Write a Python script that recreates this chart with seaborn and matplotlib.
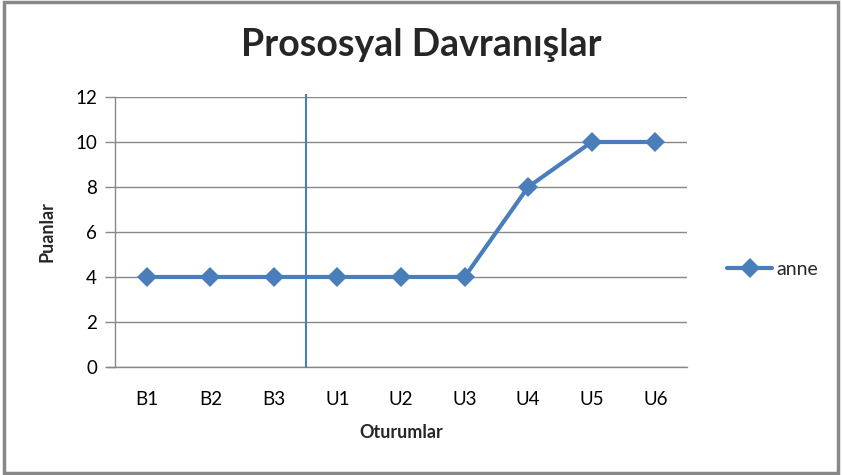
import pandas as pd
import matplotlib.pyplot as plt
import seaborn as sns

# === Data ===
sessions = ["B1", "B2", "B3", "U1", "U2", "U3", "U4", "U5", "U6"]
anne_scores = [4, 4, 4, 4, 4, 4, 8, 10, 10]
phase_change = 2.5  # between B3 and U1
y_ticks = [0, 2, 4, 6, 8, 10, 12]

LINE_COLOR = "#4A7EBB"
GRID_COLOR = "#888888"

df = pd.DataFrame({"Oturum": sessions, "Puan": anne_scores, "Seri": "anne"})
df["pos"] = range(len(sessions))

sns.set_theme(style="white")
plt.rcParams["font.family"] = ["Lato", "DejaVu Sans"]

fig = plt.figure(figsize=(8.42, 4.75), dpi=100)
ax = fig.add_axes([0.1366, 0.2274, 0.6794, 0.5684])

sns.lineplot(data=df, x="pos", y="Puan", hue="Seri", palette=[LINE_COLOR],
             marker="D", markersize=10, linewidth=3, markeredgewidth=0,
             ax=ax)

# phase change line
ax.vlines(phase_change, -0.05, 12.12, color=LINE_COLOR, linewidth=1.5,
          clip_on=False, zorder=3)

ax.set_xlim(-0.5, len(sessions) - 0.5)
ax.set_ylim(0, 12)
ax.set_xticks(range(len(sessions)))
ax.set_xticklabels(sessions, fontsize=13.5)
ax.set_yticks(y_ticks)
ax.set_yticklabels([str(v) for v in y_ticks], fontsize=13.5)
ax.yaxis.grid(True, color=GRID_COLOR, linewidth=1)
ax.set_axisbelow(True)

for side in ["top", "right"]:
    ax.spines[side].set_visible(False)
for side in ["left", "bottom"]:
    ax.spines[side].set_color(GRID_COLOR)
    ax.spines[side].set_linewidth(1)
ax.spines["bottom"].set_bounds(-0.63, len(sessions) - 0.5)

ax.tick_params(axis="y", which="major", left=True, length=7, width=1,
               color=GRID_COLOR, pad=6, labelcolor="black")
ax.tick_params(axis="x", which="major", bottom=False, pad=11, labelcolor="black")

ax.set_xlabel("Oturumlar", fontsize=13, fontweight="bold", labelpad=12)
ax.set_ylabel("Puanlar", fontsize=13, fontweight="bold", labelpad=14)
fig.suptitle("Prososyal Davranışlar", fontsize=27, fontweight="bold",
             x=0.5, y=0.94)

leg = ax.legend(loc="center left", bbox_to_anchor=(1.04, 0.36), frameon=False,
                fontsize=14, handlelength=2.3, handletextpad=0.2)

# chart border
fig.patches.append(plt.Rectangle((0.005, 0.005), 0.99, 0.99, transform=fig.transFigure,
                                 fill=False, edgecolor="#888888", linewidth=2.5))

plt.savefig("out.png", dpi=100)
plt.close()
